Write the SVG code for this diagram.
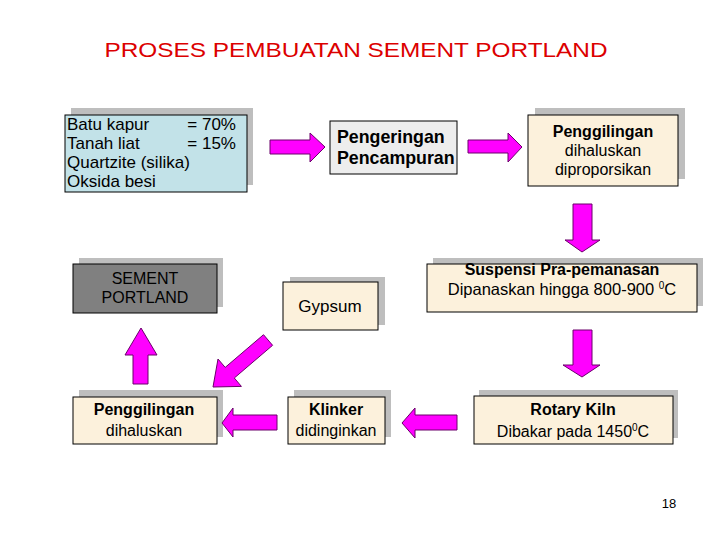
<svg xmlns="http://www.w3.org/2000/svg" width="720" height="540" viewBox="0 0 720 540">
<style>
text{font-family:"Liberation Sans",Arial,sans-serif;fill:#000}
.sh{fill:#BEBEBE}
.bx{stroke:#000;stroke-width:1}
.cream{fill:#FCF1DC}
.arr{fill:#FF00FF;stroke:#6A006A;stroke-width:1}
.b{font-weight:bold}
.c{text-anchor:middle}
.n{font-size:16px}
.m{font-size:17px}
</style>
<rect width="720" height="540" fill="#fff"/>
<text x="356" y="57" class="c" style="fill:#DC0000;font-size:21px" textLength="503" lengthAdjust="spacingAndGlyphs">PROSES PEMBUATAN SEMENT PORTLAND</text>

<g id="bahan">
<rect class="sh" x="71" y="108" width="182" height="77"/>
<rect class="bx" x="65" y="115" width="182" height="77" fill="#C2E2E8"/>
<text x="67" y="130" class="m">Batu kapur</text><text x="236" y="130" class="m" text-anchor="end">= 70%</text>
<text x="67" y="149" class="m">Tanah liat</text><text x="236" y="149" class="m" text-anchor="end">= 15%</text>
<text x="67" y="168" class="m">Quartzite (silika)</text>
<text x="67" y="187" class="m">Oksida besi</text>
</g>

<g id="pengeringan">
<rect class="bx" x="330" y="121" width="127" height="53" fill="#EDEDED"/>
<text x="337" y="143" class="b" style="font-size:17.8px">Pengeringan</text>
<text x="337" y="164" class="b" style="font-size:17.8px">Pencampuran</text>
</g>

<g id="penggilingan1">
<rect class="sh" x="535" y="108" width="150" height="71"/>
<rect class="bx cream" x="528" y="115" width="150" height="71"/>
<text x="603" y="137" class="c b n">Penggilingan</text>
<text x="603" y="156" class="c n">dihaluskan</text>
<text x="603" y="175" class="c n">diproporsikan</text>
</g>

<g id="suspensi">
<rect class="sh" x="433" y="258" width="270" height="48"/>
<rect class="bx cream" x="427" y="264" width="270" height="48"/>
<text x="562" y="275" class="c b n">Suspensi Pra-pemanasan</text>
<text x="562" y="295" class="c" style="font-size:16.5px">Dipanaskan hingga 800-900 <tspan font-size="10" dy="-6">0</tspan><tspan dy="6">C</tspan></text>
</g>

<g id="rotary">
<rect class="sh" x="479" y="390" width="199" height="48"/>
<rect class="bx cream" x="474" y="396" width="199" height="48"/>
<text x="573" y="415" class="c b n">Rotary Kiln</text>
<text x="573" y="437" class="c n">Dibakar pada 1450<tspan font-size="10" dy="-6">0</tspan><tspan dy="6">C</tspan></text>
</g>

<g id="klinker">
<rect class="sh" x="294" y="390" width="97" height="47"/>
<rect class="bx cream" x="288" y="397" width="97" height="47"/>
<text x="336" y="415" class="c b n">Klinker</text>
<text x="336" y="436" class="c n">didinginkan</text>
</g>

<g id="penggilingan2">
<rect class="sh" x="79" y="390" width="144" height="47"/>
<rect class="bx cream" x="73" y="397" width="144" height="47"/>
<text x="144" y="415" class="c b n">Penggilingan</text>
<text x="144" y="436" class="c n">dihaluskan</text>
</g>

<g id="gypsum">
<rect class="sh" x="290" y="277" width="95" height="48"/>
<rect class="bx cream" x="283" y="282" width="95" height="48"/>
<text x="330" y="312" class="c m">Gypsum</text>
</g>

<g id="sement">
<rect class="sh" x="79" y="258" width="144" height="49"/>
<rect class="bx" x="73" y="264" width="144" height="49" fill="#808080"/>
<text x="145" y="284" class="c n">SEMENT</text>
<text x="145" y="303" class="c n">PORTLAND</text>
</g>

<g id="connectors">
<polygon class="arr" points="270,140 310,140 310,133 325,147 310,162 310,154 270,154"/>
<polygon class="arr" points="468,140 508,140 508,133 522,147 508,162 508,153 468,153"/>
<polygon class="arr" points="573,204 592,204 592,240 600,240 582,252 565,240 573,240"/>
<polygon class="arr" points="573,330 592,330 592,365 600,365 582,377 563,365 573,365"/>
<polygon class="arr" points="457,415 415,415 415,408 402,423 415,438 415,430 457,430"/>
<polygon class="arr" points="277,415 233,415 233,408 222,423 233,437 233,430 277,430"/>
<polygon class="arr" points="133,384 133,355 125,355 141,328 157,355 148,355 148,384"/>
<polygon class="arr" points="263.5,334.7 272.6,345.3 234.3,378 241.4,386.4 213,387 218,359 225.2,367.4"/>
</g>

<text x="669" y="508" class="c" style="font-size:13px">18</text>
</svg>
